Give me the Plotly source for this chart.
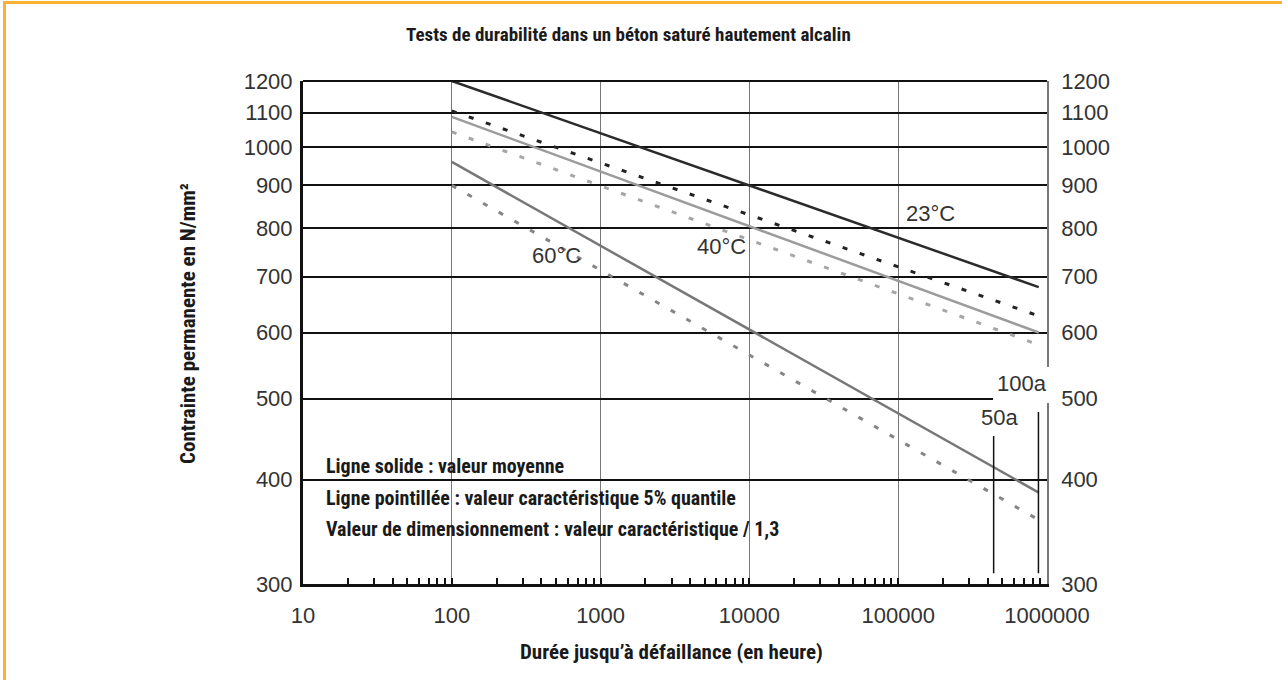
import numpy as np
import plotly.graph_objects as go

# ---------------- data ----------------
hours = [100, 880000]                       # start / end of each regression line (h)
t23_mean = [1200, 680]
t23_char = [1105, 628]
t40_mean = [1087, 600]
t40_char = [1043, 580]
t60_mean = [960, 386]
t60_char = [900, 358]

years_hours = [50 * 8760, 100 * 8760]      # 50a, 100a
years_labels = ["50a", "100a"]
years_bottom = [309, 309]
years_top = [451, 482]
years_label_x = [483000, 679000]
years_label_y = [475, 521]

x_tickvals = [10, 100, 1000, 10000, 100000, 1000000]
x_ticktext = ["10", "100", "1000", "10000", "100000", "1000000"]
y_tickvals = [300, 400, 500, 600, 700, 800, 900, 1000, 1100, 1200]
y_ticktext = [str(v) for v in y_tickvals]

temp_labels = ["23°C", "40°C", "60°C"]
temp_label_x = [165600, 6470, 509]
temp_label_y = [834, 760, 741]

notes = [
    "Ligne solide : valeur moyenne",
    "Ligne pointillée : valeur caractéristique 5% quantile",
    "Valeur de dimensionnement : valeur caractéristique / 1,3",
]

title = "Tests de durabilité dans un béton saturé hautement alcalin"
x_title = "Durée jusqu’à défaillance (en heure)"
y_title = "Contrainte permanente en N/mm²"

# ---------------- layout geometry ----------------
W, H = 1282, 680
L, R, T, B = 303, 1047, 81, 584
def px(x):
    return (x - L) / (R - L)
def py(y):
    return (B - y) / (B - T)

COND = "Roboto Condensed, Liberation Sans Narrow, DejaVu Sans Condensed, Arial Narrow, sans-serif"
ARIAL = "Liberation Sans, Arial, sans-serif"
TXT = "#1a1a1a"
NUM = "#333333"

fig = go.Figure()

def add_line(yv, color, width, dash=None):
    fig.add_trace(go.Scatter(
        x=hours, y=yv, mode="lines",
        line=dict(color=color, width=width, dash=dash),
        hoverinfo="skip", showlegend=False))

add_line(t23_char, "#222222", 3, "5px,13px")
add_line(t40_char, "#a6a6a6", 3, "5px,13px")
add_line(t60_char, "#858585", 3, "5px,13px")
add_line(t23_mean, "#2b2b2b", 2.5)
add_line(t40_mean, "#9c9c9c", 2.5)
add_line(t60_mean, "#777777", 2.5)

for h, yb, yt in zip(years_hours, years_bottom, years_top):
    fig.add_trace(go.Scatter(x=[h, h], y=[yb, yt], mode="lines",
                             line=dict(color="#111111", width=1.5),
                             hoverinfo="skip", showlegend=False))

# invisible trace on the right axis
fig.add_trace(go.Scatter(x=[100], y=[500], yaxis="y2", mode="markers",
                         marker=dict(opacity=0), hoverinfo="skip", showlegend=False))

minor_ticks = [k * 10 ** n for n in range(1, 6) for k in range(2, 10)]

yrange = [np.log10(300), np.log10(1200)]

fig.update_layout(
    width=W, height=H,
    margin=dict(l=L, r=W - R, t=T, b=H - B),
    paper_bgcolor="white", plot_bgcolor="white",
    showlegend=False,
    xaxis=dict(
        type="log", range=[1, 6],
        tickmode="array", tickvals=x_tickvals, ticktext=x_ticktext,
        showgrid=True, gridcolor="#777777", gridwidth=1,
        ticks="inside", ticklen=6, tickwidth=1.5, tickcolor="#111111",
        minor=dict(tickmode="array", tickvals=minor_ticks, ticks="inside",
                   ticklen=6, tickwidth=1.5, tickcolor="#111111", showgrid=False),
        showline=True, linecolor="#111111", linewidth=3,
        tickfont=dict(family=ARIAL, size=22, color=NUM),
        ticklabelstandoff=10,
        zeroline=False,
    ),
    yaxis=dict(
        type="log", range=yrange,
        tickmode="array", tickvals=y_tickvals, ticktext=y_ticktext,
        showgrid=True, gridcolor="#111111", gridwidth=2,
        ticks="", showline=True, linecolor="#111111", linewidth=3,
        tickfont=dict(family=ARIAL, size=22, color=NUM),
        ticklabelstandoff=3,
        zeroline=False,
    ),
    yaxis2=dict(
        type="log", range=yrange, overlaying="y", side="right",
        tickmode="array", tickvals=y_tickvals, ticktext=y_ticktext,
        showgrid=False, ticks="", showline=True, linecolor="#777777", linewidth=1.5,
        tickfont=dict(family=ARIAL, size=22, color=NUM),
        ticklabelstandoff=8,
        zeroline=False,
    ),
)

shapes = []
# top border line of plot
shapes.append(dict(type="line", xref="paper", yref="paper", x0=0, x1=1, y0=1, y1=1,
                   line=dict(color="#111111", width=2), layer="above"))
# white box behind the notes (covers grid lines)
shapes.append(dict(type="rect", xref="paper", yref="paper",
                   x0=px(315), x1=px(865), y0=py(563), y1=py(443),
                   fillcolor="white", line=dict(width=0), layer="between"))
# white box behind the 100a label
shapes.append(dict(type="rect", xref="paper", yref="paper",
                   x0=px(993), x1=px(1053), y0=py(403), y1=py(367),
                   fillcolor="white", line=dict(width=0), layer="above"))
# orange frame
shapes.append(dict(type="line", xref="paper", yref="paper",
                   x0=px(4.5), x1=px(4.5), y0=py(1), y1=py(681),
                   line=dict(color="#f9b233", width=3), layer="above"))
shapes.append(dict(type="line", xref="paper", yref="paper",
                   x0=px(3), x1=px(1283), y0=py(2.5), y1=py(2.5),
                   line=dict(color="#f9b233", width=3), layer="above"))
fig.update_layout(shapes=shapes)

ann = []
ann.append(dict(text=f"<b>{title}</b>", x=px(628), y=py(35), xref="paper", yref="paper",
                showarrow=False, xanchor="center", yanchor="middle",
                font=dict(family=COND, size=19, color=TXT)))
ann.append(dict(text=f"<b>{x_title}</b>", x=px(671), y=py(652), xref="paper", yref="paper",
                showarrow=False, xanchor="center", yanchor="middle",
                font=dict(family=COND, size=21, color=TXT)))
ann.append(dict(text=f"<b>{y_title}</b>", x=px(188), y=py(324), xref="paper", yref="paper",
                showarrow=False, xanchor="center", yanchor="middle", textangle=-90,
                font=dict(family=COND, size=21, color=TXT)))
for txt, yc in zip(notes, [466, 498, 529]):
    ann.append(dict(text=f"<b>{txt}</b>", x=px(324), y=py(yc), xref="paper", yref="paper",
                    showarrow=False, xanchor="left", yanchor="middle",
                    font=dict(family=COND, size=20, color=TXT)))
for txt, xv, yv in zip(temp_labels, temp_label_x, temp_label_y):
    ann.append(dict(text=txt, x=np.log10(xv), y=np.log10(yv), xref="x", yref="y",
                    showarrow=False, xanchor="center", yanchor="middle",
                    font=dict(family=ARIAL, size=22, color=NUM)))
for txt, xv, yv in zip(years_labels, years_label_x, years_label_y):
    ann.append(dict(text=txt, x=np.log10(xv), y=np.log10(yv), xref="x", yref="y",
                    showarrow=False, xanchor="center", yanchor="middle",
                    font=dict(family=ARIAL, size=22, color=NUM)))
fig.update_layout(annotations=ann)

fig.write_html("out.html",
               config={"displayModeBar": False},
               post_script="document.body.style.margin='0px';document.body.style.overflow='hidden';")
